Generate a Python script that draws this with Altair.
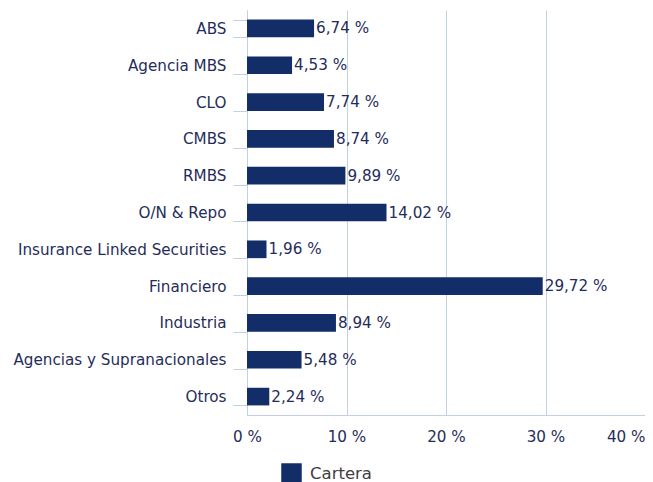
import altair as alt
import pandas as pd

categories = ["ABS", "Agencia MBS", "CLO", "CMBS", "RMBS", "O/N & Repo",
              "Insurance Linked Securities", "Financiero", "Industria",
              "Agencias y Supranacionales", "Otros"]
values = [6.74, 4.53, 7.74, 8.74, 9.89, 14.02, 1.96, 29.72, 8.94, 5.48, 2.24]
series_name = "Cartera"
x_ticks = [0, 10, 20, 30, 40]

df = pd.DataFrame({
    "cat": categories,
    "val": values,
    "label": [f"{v:.2f}".replace(".", ",") + " %" for v in values],
    "serie": [series_name] * len(categories),
})

FONT = "DejaVu Sans"
TEXT = "#1f2d5a"
BAR = "#132d69"
LINE = "#c3cfe2"
FS = 15.2

y_enc = alt.Y("cat:N", sort=categories, title=None,
              scale=alt.Scale(paddingInner=0.52, paddingOuter=0.26),
              axis=alt.Axis(tickBand="extent", tickSize=14, tickColor=LINE,
                            domainColor=LINE, labelPadding=7, labelFontSize=FS,
                            labelColor=TEXT, labelFont=FONT, labelLimit=0, grid=False))
x_enc = alt.X("val:Q", title=None,
              scale=alt.Scale(domain=[0, 40], nice=False),
              axis=alt.Axis(values=x_ticks, ticks=False, grid=True, gridColor=LINE,
                            domainColor=LINE, labelPadding=14, labelFontSize=FS,
                            labelColor=TEXT, labelFont=FONT,
                            labelExpr="datum.value + ' %'",
                            labelAlign=alt.expr("datum.value == 40 ? 'right' : 'center'"),
                            labelFlush=False))

bars = alt.Chart(df).mark_bar(color=BAR).encode(
    x=x_enc, y=y_enc,
    color=alt.Color("serie:N", scale=alt.Scale(range=[BAR]),
                    legend=alt.Legend(title=None, orient="none", legendX=34, legendY=453,
                                      symbolType="square", symbolSize=420,
                                      symbolStrokeWidth=0, labelFontSize=16.5,
                                      labelColor="#404040", labelFont=FONT,
                                      labelOffset=8)),
)

texts = alt.Chart(df).mark_text(align="left", baseline="middle", dx=2,
                                fontSize=FS, font=FONT, color=TEXT).encode(
    x="val:Q", y=alt.Y("cat:N", sort=categories), text="label:N")

chart = (bars + texts).properties(
    width=398, height=405,
    autosize=alt.AutoSizeParams(type="none"),
    padding={"left": 239, "top": 2, "right": 0, "bottom": 67},
).configure_view(stroke=None)

chart.save("out.html", embed_options={"renderer": "svg", "actions": False})
